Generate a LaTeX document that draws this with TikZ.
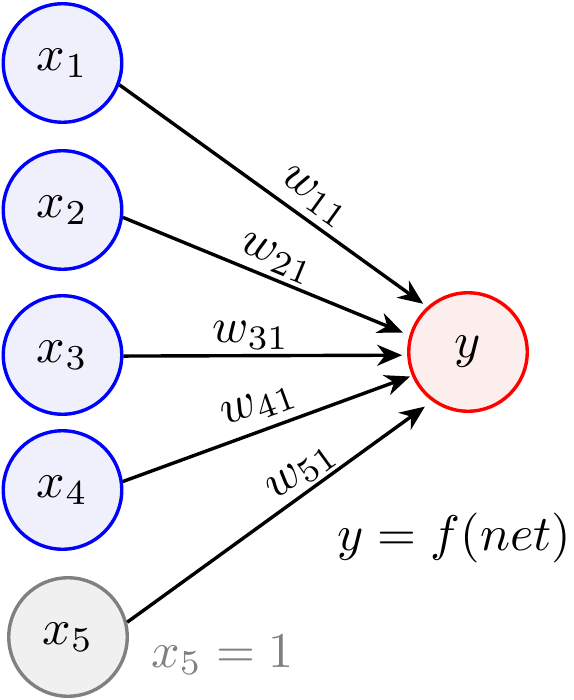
\documentclass[tikz,border=0pt]{standalone}
\usetikzlibrary{arrows.meta}
\definecolor{inpfill}{RGB}{240,240,252}
\definecolor{inpdraw}{RGB}{0,0,255}
\definecolor{outfill}{RGB}{253,238,238}
\definecolor{outdraw}{RGB}{255,0,0}
\definecolor{biasfill}{RGB}{240,240,240}
\definecolor{biasdraw}{RGB}{128,128,128}
\newcommand{\myNodeMath}[1]{\scalebox{5}{$#1$}}
\newcommand{\myWMath}[1]{\scalebox{4.9}{$#1$}}
\begin{document}
\begin{tikzpicture}[x=1pt,y=-1pt,
  neuron/.style={circle,line width=3.4pt,minimum size=118.5pt,inner sep=0pt},
  inp/.style={neuron,draw=inpdraw,fill=inpfill},
  outn/.style={neuron,draw=outdraw,fill=outfill},
  bias/.style={neuron,draw=biasdraw,fill=biasfill},
  conn/.style={line width=3.4pt,-{Stealth[length=25pt,width=21pt,inset=8pt]}},
  wlab/.style={sloped,inner sep=0pt,anchor=center},
  note/.style={inner sep=0pt}
]
\useasboundingbox (0,0) rectangle (573,700);
\node[inp] (x1) at (62.5,63) {\myNodeMath{x_1}};
\node[inp] (x2) at (62.5,210) {\myNodeMath{x_2}};
\node[inp] (x3) at (62.5,355) {\myNodeMath{x_3}};
\node[inp] (x4) at (62.5,490) {\myNodeMath{x_4}};
\node[bias] (x5) at (68,637) {\myNodeMath{x_5}};
\node[outn] (y) at (468,352) {\myNodeMath{y}};

\draw[conn,shorten >=5pt] (x1.-21) -- node[wlab,pos=0.59,yshift=23pt] {\myWMath{w_{11}}} (y.132);
\draw[conn,shorten >=7pt] (x2.-7) -- node[wlab,pos=0.51,yshift=20pt] {\myWMath{w_{21}}} (y.164);
\draw[conn,shorten >=5pt] (x3.-1) -- node[wlab,pos=0.45,yshift=20pt] {\myWMath{w_{31}}} (y.183);
\draw[conn,shorten >=2pt] (x4.8) -- node[wlab,pos=0.5,yshift=24pt] {\myWMath{w_{41}}} (y.203);
\draw[conn,shorten >=9pt] (x5.14) -- node[wlab,pos=0.61,yshift=19pt] {\myWMath{w_{51}}} (y.234);

\node[note,anchor=base east] (fnet) at (571,550) {\myNodeMath{y = f(net)}};
\node[note,anchor=base west,text=biasdraw] (bval) at (151,667) {\myNodeMath{x_5 = 1}};
\end{tikzpicture}
\end{document}
